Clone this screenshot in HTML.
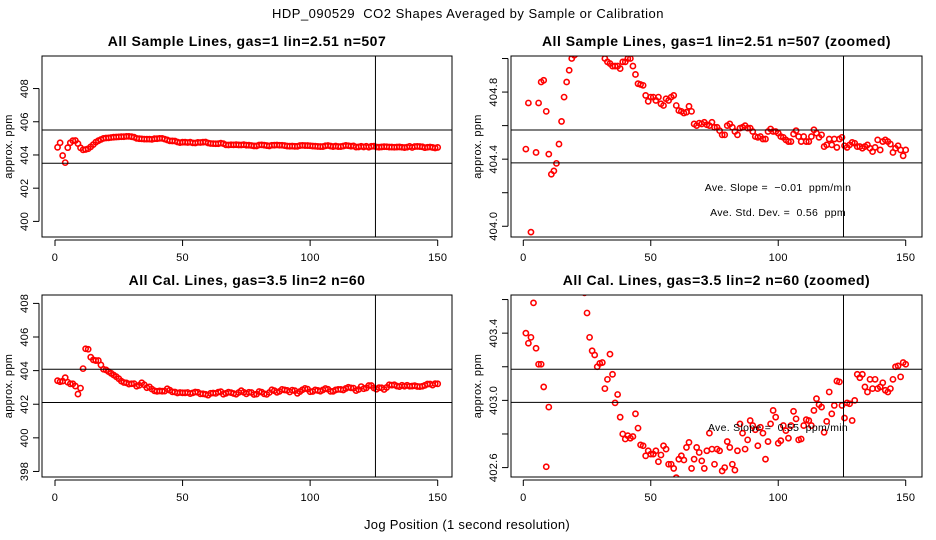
<!DOCTYPE html>
<html><head><meta charset="utf-8">
<style>
html,body{margin:0;padding:0;background:#fff;}
svg{display:block;font-family:"Liberation Sans",sans-serif;}
</style></head>
<body>
<svg id="chart" width="936" height="540" viewBox="0 0 936 540" xmlns="http://www.w3.org/2000/svg">
<rect width="936" height="540" fill="#fff"/>
<text x="468" y="18" text-anchor="middle" font-size="13" letter-spacing="0.5">HDP_090529&#160; CO2 Shapes Averaged by Sample or Calibration</text>
<text x="467" y="529" text-anchor="middle" font-size="13" letter-spacing="0.3">Jog Position (1 second resolution)</text>
</svg>
<script>
const sampleValues = [404.46,404.735,403.965,403.54,404.44,404.735,404.86,404.87,404.685,404.43,404.31,404.33,404.375,404.49,404.625,404.77,404.86,404.93,405.0,405.02,405.03,405.05,405.07,405.08,405.09,405.1,405.1,405.12,405.12,405.1,405.07,405.0,404.98,404.97,404.955,404.955,404.955,404.94,404.98,404.98,405.0,405.0,404.955,404.905,404.85,404.845,404.84,404.78,404.745,404.77,404.77,404.75,404.77,404.73,404.72,404.76,404.75,404.77,404.78,404.72,404.69,404.685,404.675,404.68,404.715,404.685,404.61,404.6,404.615,404.61,404.62,404.605,404.6,404.62,404.59,404.59,404.57,404.545,404.545,404.6,404.61,404.59,404.565,404.545,404.585,404.59,404.6,404.585,404.585,404.565,404.535,404.53,404.535,404.52,404.52,404.565,404.58,404.565,404.565,404.555,404.535,404.53,404.515,404.505,404.505,404.55,404.57,404.535,404.505,404.535,404.505,404.505,404.535,404.575,404.555,404.53,404.545,404.475,404.485,404.52,404.485,404.52,404.47,404.52,404.53,404.48,404.47,404.485,404.5,404.495,404.475,404.475,404.465,404.475,404.485,404.465,404.445,404.47,404.515,404.455,404.505,404.515,404.505,404.49,404.44,404.465,404.48,404.455,404.42,404.455];
const calValues = [403.4,403.34,403.375,403.58,403.31,403.215,403.215,403.08,402.605,402.96,404.12,405.3,405.27,404.8,404.64,404.6,404.6,404.34,404.08,404.04,403.94,403.84,403.74,403.64,403.52,403.375,403.295,403.27,403.2,403.22,403.225,403.07,403.125,403.275,403.155,402.985,403.035,402.9,402.8,402.77,402.79,402.775,402.785,402.92,402.835,402.735,402.73,402.67,402.7,402.68,402.68,402.7,402.635,402.675,402.73,402.71,402.62,402.62,402.595,402.54,402.65,402.67,402.645,402.72,402.75,402.595,402.65,402.72,402.69,402.64,402.595,402.7,402.805,402.71,402.62,402.71,402.7,402.58,402.6,402.755,402.72,402.62,402.585,402.7,402.86,402.805,402.71,402.765,402.88,402.85,402.825,402.73,402.84,402.805,402.65,402.755,402.86,402.94,402.9,402.745,402.76,402.85,402.82,402.775,402.85,402.935,402.89,402.765,402.77,402.85,402.885,402.88,402.85,402.94,403.01,402.975,402.96,402.81,402.875,403.05,402.92,402.97,403.115,403.11,402.97,402.895,402.985,402.98,402.88,403.0,403.155,403.135,403.155,403.08,403.05,403.125,403.07,403.125,403.07,403.08,403.105,403.06,403.05,403.07,403.125,403.2,403.205,403.14,403.225,403.215];
const xTicks = [0,50,100,150];
const yTicksP1 = [400,402,404,406,408];
const yTicksP2 = [404.0,404.2,404.4,404.6,404.8,405.0];
const yLabelsP2 = [404.0,404.4,404.8];
const yTicksP3 = [398,400,402,404,406,408];
const yTicksP4 = [402.6,402.8,403.0,403.2,403.4,403.6];
const yLabelsP4 = [402.6,403.0,403.4];

const NS="http://www.w3.org/2000/svg";
const svg=document.getElementById('chart');
function mk(tag,attrs,parent){const e=document.createElementNS(NS,tag);for(const k in attrs)e.setAttribute(k,attrs[k]);(parent||svg).appendChild(e);return e;}

const panels=[
 {name:'sample-full',title:'All Sample Lines, gas=1 lin=2.51 n=507',box:[42,56,452,237],xp:[55,437.7],yr:[399.06,409.96],data:sampleValues,ticks:yTicksP1,labels:yTicksP1,h:[405.5,403.5],dec:0},
 {name:'sample-zoomed',title:'All Sample Lines, gas=1 lin=2.51 n=507 (zoomed)',box:[511,56,922,237],xp:[523.3,905.7],yr:[403.936,405.015],data:sampleValues,ticks:yTicksP2,labels:yLabelsP2,h:[404.574,404.378],dec:1,notes:[['Ave. Slope =\u00a0 \u22120.01\u00a0 ppm/min',191],['Ave. Std. Dev. =\u00a0 0.56\u00a0 ppm',216]]},
 {name:'cal-full',title:'All Cal. Lines, gas=3.5 lin=2 n=60',box:[42,295,452,477],xp:[55,437.7],yr:[397.67,408.5],data:calValues,ticks:yTicksP3,labels:yTicksP3,h:[404.08,402.1],dec:0},
 {name:'cal-zoomed',title:'All Cal. Lines, gas=3.5 lin=2 n=60 (zoomed)',box:[511,295,922,477],xp:[523.3,905.7],yr:[402.544,403.627],data:calValues,ticks:yTicksP4,labels:yLabelsP4,h:[403.185,402.988],dec:1,notes:[['Ave. Slope =\u00a0 0.55\u00a0 ppm/min',431]]}
];

panels.forEach((p,pi)=>{
 const [bx0,by0,bx1,by1]=p.box;
 const g=mk('g',{});
 
 
 const xs=v=>p.xp[0]+(p.xp[1]-p.xp[0])*v/150;
 const ys=v=>by1-(v-p.yr[0])/(p.yr[1]-p.yr[0])*(by1-by0);
 const cx=(bx0+bx1)/2;
 const t=mk('text',{x:cx,y:by0-10,'text-anchor':'middle','font-size':14,'font-weight':'bold','letter-spacing':0.5},g);
 t.textContent=p.title;
 
 
 const cid='clip'+pi;
 const cp=mk('clipPath',{id:cid},g);mk('rect',{x:bx0,y:by0,width:bx1-bx0,height:by1-by0},cp);
 const pts=mk('g',{'clip-path':'url(#'+cid+')'},g);
 
 
 p.data.forEach((v,i)=>{
  const c=mk('circle',{cx:xs(i+1),cy:ys(v),r:2.6,fill:'none',stroke:'#f00','stroke-width':1.6},pts);
  
  
 });
 p.h.forEach(hv=>{
  const l=mk('line',{x1:bx0,x2:bx1,y1:ys(hv),y2:ys(hv),stroke:'#000','stroke-width':1},g);
  
  
 });
 const vl=mk('line',{x1:xs(125.6),x2:xs(125.6),y1:by0,y2:by1,stroke:'#000','stroke-width':1},g);
 
 
 const fr=mk('rect',{x:bx0,y:by0,width:bx1-bx0,height:by1-by0,fill:'none',stroke:'#000','stroke-width':1},g);
 
 
 const xa=mk('g',{},g);
 
 
 mk('line',{x1:xs(0),x2:xs(150),y1:by1+3,y2:by1+3,stroke:'#000'},xa);
 xTicks.forEach(v=>{
  mk('line',{x1:xs(v),x2:xs(v),y1:by1+3,y2:by1+9,stroke:'#000'},xa);
  const tl=mk('text',{x:xs(v),y:by1+24,'text-anchor':'middle','font-size':11,'letter-spacing':0.3},xa);
  tl.textContent=v;
  
  
 });
 const ya=mk('g',{},g);
 
 
 const ax=bx0-3;
 mk('line',{x1:ax,x2:ax,y1:ys(p.ticks[0]),y2:ys(p.ticks[p.ticks.length-1]),stroke:'#000'},ya);
 p.ticks.forEach(v=>{mk('line',{x1:ax,x2:ax-6,y1:ys(v),y2:ys(v),stroke:'#000'},ya);});
 p.labels.forEach(v=>{
  const yy=ys(v),xx=ax-11;
  const tl=mk('text',{x:xx,y:yy,'text-anchor':'middle','font-size':11,'letter-spacing':0.3,transform:'rotate(-90 '+xx+' '+yy+')'},ya);
  tl.textContent=v.toFixed(p.dec);
  
  
 });
 const yx=bx0-30,yy=(by0+by1)/2;
 const yt=mk('text',{x:yx,y:yy,'text-anchor':'middle','font-size':11,'letter-spacing':0.3,transform:'rotate(-90 '+yx+' '+yy+')'},g);
 yt.textContent='approx. ppm';
 
 
 (p.notes||[]).forEach(n=>{
  const nt=mk('text',{x:778,y:n[1],'text-anchor':'middle','font-size':10.5,'letter-spacing':0.3},g);
  nt.textContent=n[0];
  
  
 });
});
</script>
</body></html>
